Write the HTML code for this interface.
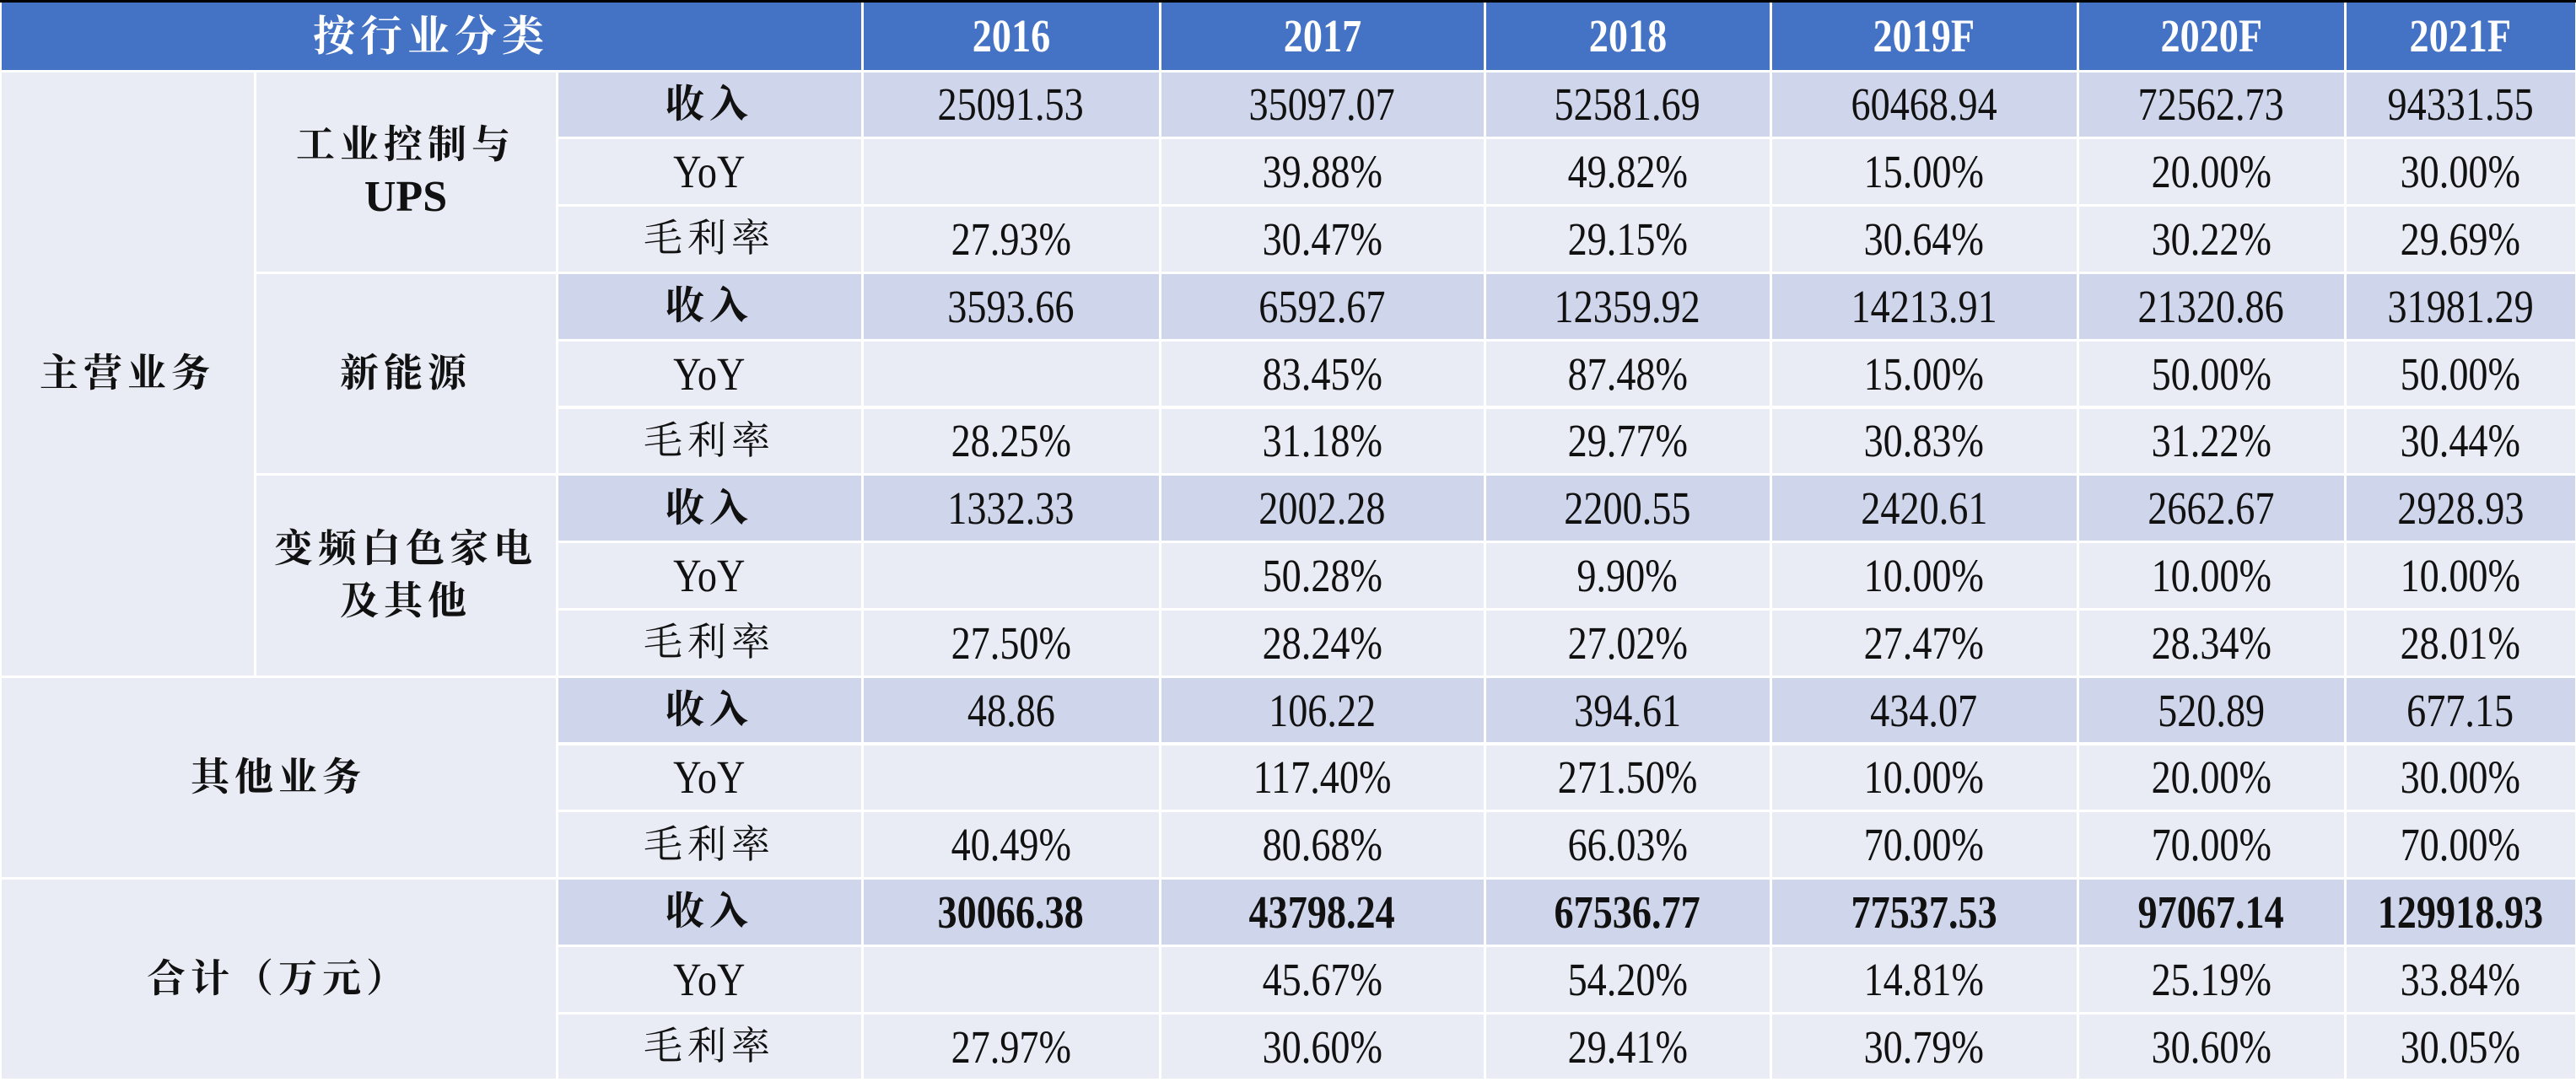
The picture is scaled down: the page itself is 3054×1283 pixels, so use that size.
<!DOCTYPE html>
<html><head><meta charset="utf-8">
<style>
html,body{margin:0;padding:0;background:#fff;}
#wrap{position:relative;width:3054px;height:1283px;overflow:hidden;background:#fff;font-family:"Liberation Serif","Noto Serif CJK SC",serif;}
.cell{position:absolute;box-sizing:border-box;display:flex;align-items:center;justify-content:center;text-align:center;color:#111;}
.t{display:inline-block;transform:scaleX(0.84);font-size:55px;white-space:nowrap;}
.cjk{font-family:"Liberation Serif","Noto Serif CJK SC",serif;font-size:46px;letter-spacing:6px;line-height:62px;}
</style></head>
<body>
<div id="wrap">
<div style="position:absolute;left:0;top:0;width:3054px;height:3px;background:#000"></div>
</div>
<script>
const years = ["2016","2017","2018","2019F","2020F","2021F"];
const metrics = ["收入","YoY","毛利率"];
const rowData = [
 ["25091.53","35097.07","52581.69","60468.94","72562.73","94331.55"],
 ["","39.88%","49.82%","15.00%","20.00%","30.00%"],
 ["27.93%","30.47%","29.15%","30.64%","30.22%","29.69%"],
 ["3593.66","6592.67","12359.92","14213.91","21320.86","31981.29"],
 ["","83.45%","87.48%","15.00%","50.00%","50.00%"],
 ["28.25%","31.18%","29.77%","30.83%","31.22%","30.44%"],
 ["1332.33","2002.28","2200.55","2420.61","2662.67","2928.93"],
 ["","50.28%","9.90%","10.00%","10.00%","10.00%"],
 ["27.50%","28.24%","27.02%","27.47%","28.34%","28.01%"],
 ["48.86","106.22","394.61","434.07","520.89","677.15"],
 ["","117.40%","271.50%","10.00%","20.00%","30.00%"],
 ["40.49%","80.68%","66.03%","70.00%","70.00%","70.00%"],
 ["30066.38","43798.24","67536.77","77537.53","97067.14","129918.93"],
 ["","45.67%","54.20%","14.81%","25.19%","33.84%"],
 ["27.97%","30.60%","29.41%","30.79%","30.60%","30.05%"]
];
const colX = [0,302,660,1022,1375,1760,2099,2463,2780,3054];
const wrap = document.getElementById('wrap');
const top0 = 84, rh = 79.8, g = 3;
const DARK = "#CFD5EA", LIGHT = "#E9EBF5", BLUE = "#4472C4";
function mk(x0,x1,y0,y1,bg,html,cls){
  const d=document.createElement('div');
  d.className='cell';
  d.style.left=(x0+g/2)+'px';d.style.top=(y0+g/2)+'px';
  d.style.width=(x1-x0-g)+'px';d.style.height=(y1-y0-g)+'px';
  d.style.background=bg;
  d.innerHTML=html;
  wrap.appendChild(d);
  return d;
}
// header
let h=mk(0,colX[3],1,top0,BLUE,'<span class="cjk" style="color:#fff;font-weight:bold;font-size:50px">按行业分类</span>');


years.forEach((y,i)=>{
  const c=mk(colX[3+i],colX[4+i],1,top0,BLUE,'<span class="t" style="color:#fff;font-weight:bold">'+y+'</span>');
  
  
});
const ry=i=>top0+i*rh;
// group cells
const groups=[
 [0,1,0,9,'主营业务','group-main-business'],
 [1,2,0,3,'工业控制与<br><span style="font-family:\'Liberation Serif\',serif;font-size:52px;letter-spacing:0">UPS</span>','group-industrial-ups'],
 [1,2,3,6,'新能源','group-new-energy'],
 [1,2,6,9,'变频白色家电<br>及其他','group-appliances'],
 [0,2,9,12,'其他业务','group-other-business'],
 [0,2,12,15,'合计（万元）','group-total']
];
groups.forEach(gq=>{
  const c=mk(colX[gq[0]],colX[gq[1]],ry(gq[2]),ry(gq[3]),LIGHT,'<span class="cjk" style="font-weight:bold">'+gq[4]+'</span>');
  
  
});
// rows
rowData.forEach((row,r)=>{
  const m=r%3;
  const bg=m===0?DARK:LIGHT;
  const lab=metrics[m];
  const lh = m===1 ? '<span class="t">YoY</span>' : '<span class="cjk" style="'+(m===0?'font-weight:bold':'')+'">'+lab+'</span>';
  const lc=mk(colX[2],colX[3],ry(r),ry(r+1),bg,lh);
  
  
  row.forEach((v,i)=>{
    const bold = r===12 ? 'font-weight:bold' : '';
    const c=mk(colX[3+i],colX[4+i],ry(r),ry(r+1),bg,'<span class="t" style="'+bold+'">'+v+'</span>');
    
    
  });
});
</script>
</body></html>
